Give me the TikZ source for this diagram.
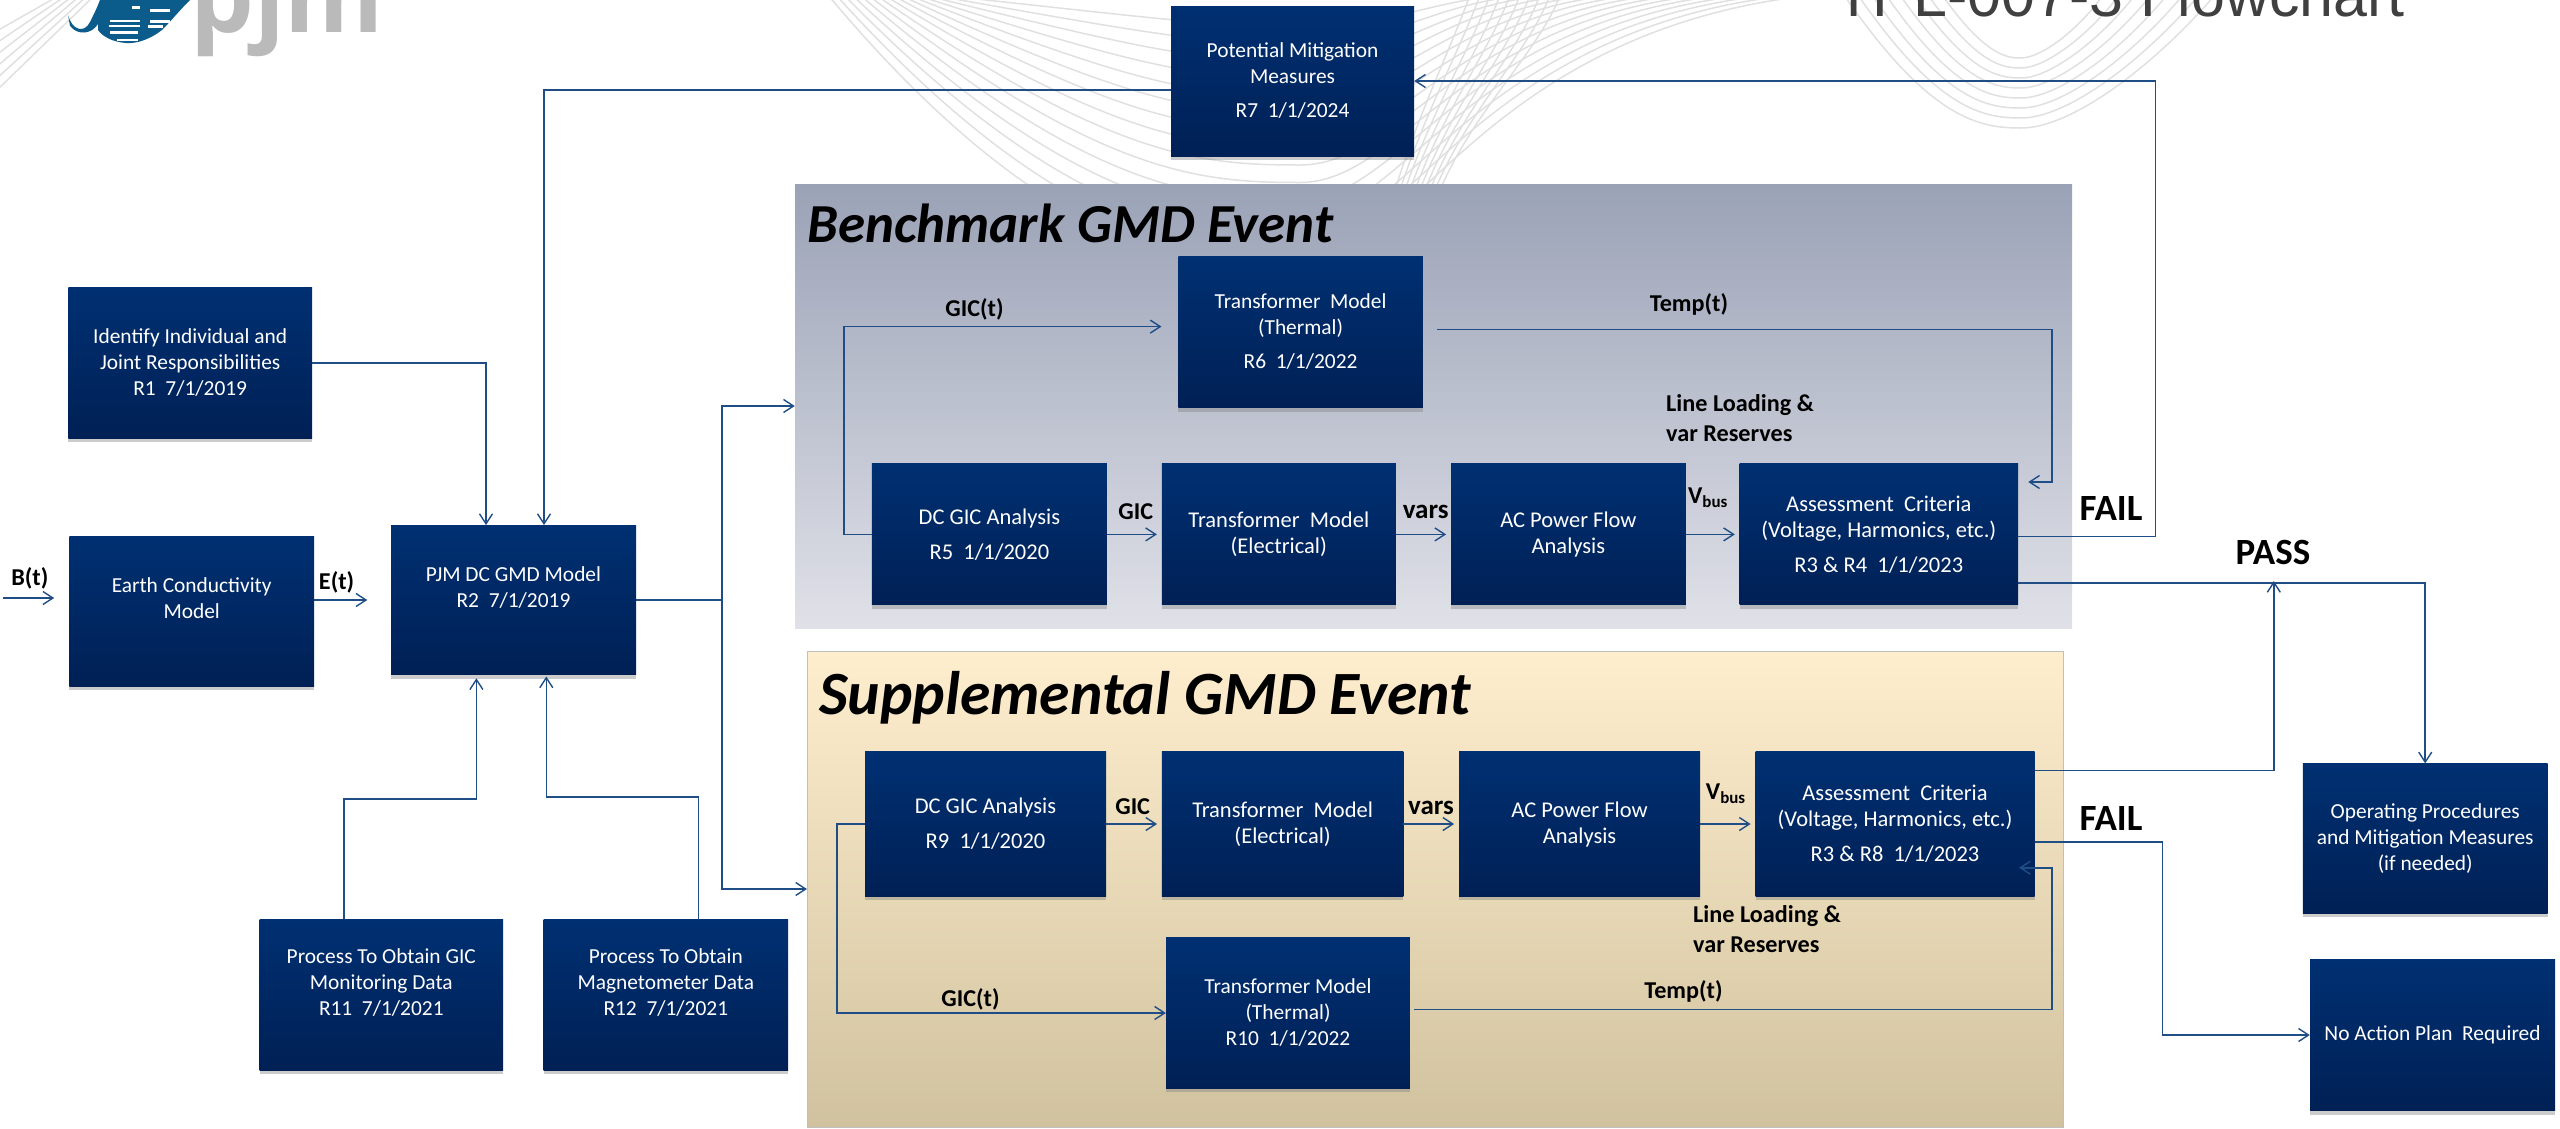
\documentclass[tikz,border=0pt]{standalone}
\usepackage{fontspec}
\setmainfont{Carlito}
\newfontfamily\arialfont{Liberation Sans}
\newfontfamily\logofont{Open Sans}
\usetikzlibrary{arrows.meta,shadows}
\definecolor{blochaut}{HTML}{003072}
\definecolor{blocbas}{HTML}{002055}
\definecolor{ligne}{HTML}{1F4E86}
\definecolor{vague}{HTML}{E0E0E0}
\definecolor{globe}{HTML}{0B5C8A}
\definecolor{Bench1}{HTML}{9AA2B6}
\definecolor{Bench2}{HTML}{E0E1E8}
\definecolor{Supp1}{HTML}{FEEECE}
\definecolor{Supp2}{HTML}{F2E8CE}
\definecolor{Supp3}{HTML}{D1C29F}
\begin{document}
\begin{tikzpicture}[x=1pt,y=-1pt]
\tikzset{bloc/.style={rectangle, top color=blochaut, bottom color=blocbas, text=white, align=center, inner sep=0pt, font=\fontsize{21.4}{26}\selectfont, drop shadow={shadow xshift=0pt, shadow yshift=-4pt, opacity=.4}}}
\tikzset{haut/.style={text depth=26pt}}
\tikzset{grand/.style={font=\fontsize{22.5}{26}\selectfont}}
\tikzset{etiq/.style={inner sep=0pt, align=left, font=\fontsize{24.2}{30}\selectfont\bfseries}}
\tikzset{gros/.style={font=\fontsize{37}{40}\selectfont\bfseries}}
\tikzset{fleche/.style={draw=ligne, line width=1.6pt, -{Straight Barb[length=10pt, width=13pt, line width=1.4pt]}}}
\tikzset{trait/.style={draw=ligne, line width=1.6pt}}
\tikzset{onde/.style={draw=vague, line width=1.5pt}}
\useasboundingbox (0,0) rectangle (2560,1128);
\clip (0,0) rectangle (2560,1128);
% background waves
\foreach \t in {0,1,...,14} {
  \draw[onde] ({828+8*\t},-5) .. controls ({1050+10*\t},{260-17*\t}) and ({1200},{270-17.5*\t}) .. (1300,{270-17.5*\t})
    .. controls ({1400},{270-17.5*\t}) and ({1480-4*\t},{30-2*\t}) .. ({1814-22*\t},-5);
}
\foreach \t in {0,1,...,9} {
  \draw[onde] ({1470+10*\t},-5) .. controls ({1450+10*\t},50) and ({1420+6*\t},110) .. ({1395+5*\t},190);
}
\foreach \t in {0,1,...,7} {
  \draw[onde] ({1844+14*\t},-5) .. controls ({1930+8*\t},{120-9*\t}) and ({1980+4*\t},{128-10*\t}) .. (2021,{128-10*\t})
    .. controls ({2070-4*\t},{128-10*\t}) and ({2150-10*\t},{70-6*\t}) .. ({2215-16*\t},-5);
}
\foreach \t in {0,1,...,5} {
  \draw[onde] (-5,{92-12*\t}) -- ({95-7*\t},-5);
}
% logo
\node[inner sep=0pt, anchor=base west, text=black!27, font=\logofont\fontsize{101}{101}\selectfont\bfseries] (Logo) at (190,32.7) {pjm};
\fill[globe] (68,15) .. controls (72,30) and (84,34) .. (90,22) .. controls (94,14) and (97,8) .. (100,0) -- (190,0) .. controls (178,12) and (172,20) .. (162,30) .. controls (152,38) and (138,44) .. (126,43) .. controls (112,42) and (102,36) .. (98,30) -- (98,24) .. controls (92,34) and (78,36) .. (70,26) -- cycle;
\foreach \y/\a/\b in {6/132/140,9/150/170,19.5/110/140,20/150/170,24.5/109/140,25/148/163,31/110/138,38.5/117/138} {
  \fill[white] (\a,\y) rectangle (\b,{\y+2.6});
}
\node[inner sep=0pt, anchor=base west, text=black!75, font=\arialfont\fontsize{61}{61}\selectfont] (Titre) at (1835,16) {TPL-007-3 Flowchart};
% panels
\node[rectangle, inner sep=0pt, minimum width=1277pt, minimum height=444pt, top color=Bench1, bottom color=Bench2] (Bench) at (1433.5,406) {};
\node[rectangle, inner sep=0pt, draw=black!25, line width=1pt, minimum width=1256.5pt, minimum height=476pt, top color=Supp1, middle color=Supp2, bottom color=Supp3] (Supp) at (1435.7,889) {};
\node[inner sep=0pt, anchor=base west, font=\fontsize{55}{55}\selectfont\bfseries\itshape] (BenchT) at (807,242) {Benchmark GMD Event};
\node[inner sep=0pt, anchor=base west, font=\fontsize{61.5}{62}\selectfont\bfseries\itshape] (SuppT) at (819,714) {Supplemental GMD Event};
% boxes
\node[bloc, minimum width=243.6pt, minimum height=150.5pt] (R1) at (190.2,362.8) {Identify Individual and\\Joint Responsibilities\\R1\ \ 7/1/2019};
\node[bloc, haut, minimum width=244.6pt, minimum height=150pt] (Earth) at (191.7,611) {Earth Conductivity\\Model};
\node[bloc, haut, minimum width=245pt, minimum height=149.5pt] (R2) at (513.5,600) {PJM DC GMD Model\\R2\ \ 7/1/2019};
\node[bloc, haut, minimum width=243.4pt, minimum height=150.6pt] (R11) at (381.3,994.7) {Process To Obtain GIC\\Monitoring Data\\R11\ \ 7/1/2021};
\node[bloc, haut, minimum width=244.4pt, minimum height=150.6pt] (R12) at (665.8,994.7) {Process To Obtain\\Magnetometer Data\\R12\ \ 7/1/2021};
\node[bloc, minimum width=243pt, minimum height=150pt] (R7) at (1292.5,81) {Potential Mitigation\\Measures\\[8pt]R7\ \ 1/1/2024};
\node[bloc, minimum width=244.6pt, minimum height=151pt] (R6) at (1300.6,332) {Transformer\ \ Model\\(Thermal)\\[8pt]R6\ \ 1/1/2022};
\node[bloc, grand, minimum width=235pt, minimum height=141pt] (R5) at (989.4,534.4) {DC GIC Analysis\\[9pt]R5\ \ 1/1/2020};
\node[bloc, grand, minimum width=234pt, minimum height=141pt] (Elec) at (1278.8,534.4) {Transformer\ \ Model\\(Electrical)};
\node[bloc, grand, minimum width=234.8pt, minimum height=141pt] (AC) at (1568.4,534.4) {AC Power Flow\\Analysis};
\node[bloc, grand, minimum width=278.5pt, minimum height=141pt] (R3) at (1878.8,534.4) {Assessment\ \ Criteria\\(Voltage, Harmonics, etc.)\\[9pt]R3 \& R4\ \ 1/1/2023};
\node[bloc, grand, minimum width=241pt, minimum height=144.3pt] (R9) at (985.5,824) {DC GIC Analysis\\[9pt]R9\ \ 1/1/2020};
\node[bloc, grand, minimum width=241.3pt, minimum height=144.3pt] (Elec2) at (1282.6,824) {Transformer\ \ Model\\(Electrical)};
\node[bloc, grand, minimum width=241pt, minimum height=144.3pt] (AC2) at (1579.5,824) {AC Power Flow\\Analysis};
\node[bloc, grand, minimum width=279pt, minimum height=144.4pt] (R8) at (1895,824) {Assessment\ \ Criteria\\(Voltage, Harmonics, etc.)\\[9pt]R3 \& R8\ \ 1/1/2023};
\node[bloc, minimum width=243.8pt, minimum height=150.3pt] (R10) at (1288,1013) {Transformer Model\\(Thermal)\\R10\ \ 1/1/2022};
\node[bloc, minimum width=244.7pt, minimum height=149.4pt] (Op) at (2425.2,838.3) {Operating Procedures\\and Mitigation Measures\\(if needed)};
\node[bloc, minimum width=245pt, minimum height=151pt] (NoAct) at (2432.5,1035) {No Action Plan\ \ Required};
% labels
\node[etiq] (Bt) at (29.8,578) {B(t)};
\node[etiq] (Et) at (336.6,582.5) {E(t)};
\node[etiq] (Gt) at (974.5,309) {GIC(t)};
\node[etiq] (Tt) at (1689,304.5) {Temp(t)};
\node[etiq, anchor=west] (LL) at (1666,418) {Line Loading \&\\var Reserves};
\node[etiq] (Gi) at (1135.8,512) {GIC};
\node[etiq, font=\fontsize{27}{30}\selectfont\bfseries] (Va) at (1425.7,512) {vars};
\node[etiq] (Vb) at (1708,498) {V\textsubscript{bus}};
\node[etiq, gros] (Fa) at (2111,508.5) {FAIL};
\node[etiq, gros] (Pa) at (2273,552.4) {PASS};
\node[etiq] (Gt2) at (970.5,999) {GIC(t)};
\node[etiq] (Tt2) at (1683.5,991) {Temp(t)};
\node[etiq, anchor=west] (LL2) at (1693,928.6) {Line Loading \&\\var Reserves};
\node[etiq] (Gi2) at (1132.7,806.7) {GIC};
\node[etiq, font=\fontsize{27}{30}\selectfont\bfseries] (Va2) at (1431,807.7) {vars};
\node[etiq] (Vb2) at (1725.8,794) {V\textsubscript{bus}};
\node[etiq, gros] (Fa2) at (2111,818) {FAIL};
% connectors
\coordinate (Bin) at (2.7,598);
\coordinate (Emb) at (722,600);
\coordinate (PassIn) at (2273.8,581);
\draw[fleche] (Bin) -- ([xshift=-15pt, yshift=13pt]Earth.west);
\draw[fleche] ([yshift=11pt]Earth.east) -- ([xshift=-23.5pt]R2.west);
\draw[fleche] (R1.east) -| ([xshift=-27.5pt]R2.north);
\draw[fleche] ([yshift=-8.7pt]R7.west) -| ([xshift=30.5pt]R2.north);
\draw[fleche] ([xshift=-37.1pt]R11.north) -- ++(0,-120.4) -| ([xshift=-37.1pt, yshift=-3.3pt]R2.south);
\draw[fleche] ([xshift=32.8pt]R12.north) -- ++(0,-122.4) -| ([xshift=32.8pt, yshift=-1.5pt]R2.south);
\draw[trait] (R2.east) -- (Emb);
\draw[fleche] (Emb) |- (Bench.west);
\draw[fleche] (Emb) |- (Supp.west);
\draw[fleche] (R5.west) -- ++(-28,0) |- ([xshift=-16.6pt, yshift=5.4pt]R6.west);
\draw[fleche] ([xshift=14pt, yshift=2.6pt]R6.east) -- ++(615,0) |- ([xshift=10pt, yshift=52.4pt]R3.east);
\draw[fleche] (R5.east) -- ([xshift=-4.7pt]Elec.west);
\draw[fleche] (Elec.east) -- ([xshift=-4.7pt]AC.west);
\draw[fleche] (AC.east) -- ([xshift=-4.5pt]R3.west);
\draw[fleche] ([yshift=-2.2pt]R3.east) -- ++(137.3,0) |- (R7.east);
\draw[fleche] ([yshift=-48.8pt]R3.east) -| (Op.north);
\draw[fleche] ([yshift=53.6pt]R8.east) -| (PassIn);
\draw[fleche] ([yshift=-17.8pt]R8.east) -- ++(127.8,0) |- (NoAct.west);
\draw[fleche] (R9.west) -- ++(-27.6,0) |- (R10.west);
\draw[fleche] ([xshift=4pt, yshift=3.6pt]R10.east) -- ++(638,0) |- ([xshift=-15.6pt, yshift=-43.7pt]R8.east);
\draw[fleche] (R9.east) -- ([xshift=-4.7pt]Elec2.west);
\draw[fleche] (Elec2.east) -- ([xshift=-4.7pt]AC2.west);
\draw[fleche] (AC2.east) -- ([xshift=-4.7pt]R8.west);
\end{tikzpicture}
\end{document}
